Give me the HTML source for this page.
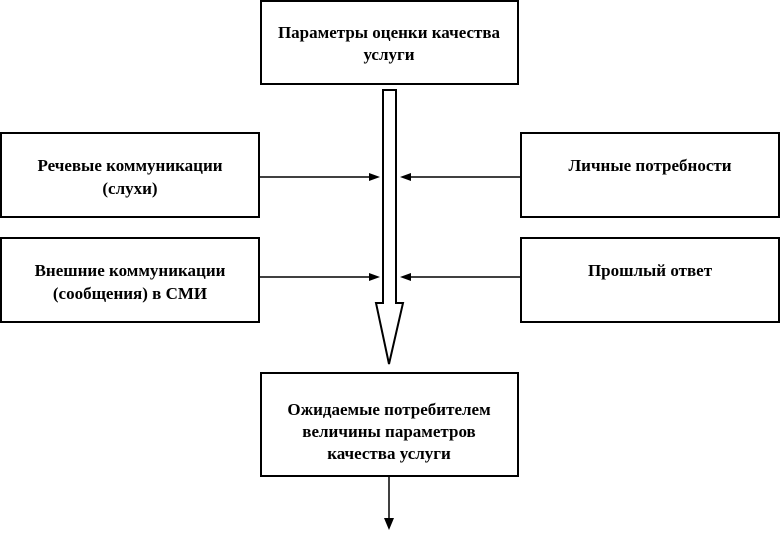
<!DOCTYPE html>
<html><head><meta charset="utf-8"><style>
body{margin:0;background:#fff}
svg text{font-family:"Liberation Serif",serif;font-weight:bold;font-size:17px;fill:#000;text-anchor:middle}
</style></head><body>
<svg width="781" height="530" viewBox="0 0 781 530" xmlns="http://www.w3.org/2000/svg">
<g fill="none" stroke="#000" stroke-width="2">
<rect x="261" y="1" width="257" height="83"/>
<rect x="1" y="133" width="258" height="84"/>
<rect x="1" y="238" width="258" height="84"/>
<rect x="521" y="133" width="258" height="84"/>
<rect x="521" y="238" width="258" height="84"/>
<rect x="261" y="373" width="257" height="103"/>
<path d="M383 90 H396 V303 H403 L389 364 L376 303 H383 Z" stroke-width="2"/>
<line x1="259" y1="177" x2="372" y2="177" stroke-width="1.5"/>
<line x1="259" y1="277" x2="372" y2="277" stroke-width="1.5"/>
<line x1="521" y1="177" x2="408" y2="177" stroke-width="1.5"/>
<line x1="521" y1="277" x2="408" y2="277" stroke-width="1.5"/>
<line x1="389" y1="476" x2="389" y2="520" stroke-width="1.5"/>
</g>
<g fill="#000">
<polygon points="380,177 369,173 369,181"/>
<polygon points="380,277 369,273 369,281"/>
<polygon points="400,177 411,173 411,181"/>
<polygon points="400,277 411,273 411,281"/>
<polygon points="389,530 384,518 394,518"/>
</g>
<text x="389" y="38">Параметры оценки качества</text>
<text x="389" y="60">услуги</text>
<text x="130" y="171">Речевые коммуникации</text>
<text x="130" y="194">(слухи)</text>
<text x="130" y="276">Внешние коммуникации</text>
<text x="130" y="299">(сообщения) в СМИ</text>
<text x="650" y="171">Личные потребности</text>
<text x="650" y="276">Прошлый ответ</text>
<text x="389" y="415">Ожидаемые потребителем</text>
<text x="389" y="437">величины параметров</text>
<text x="389" y="459">качества услуги</text>
</svg>
</body></html>
